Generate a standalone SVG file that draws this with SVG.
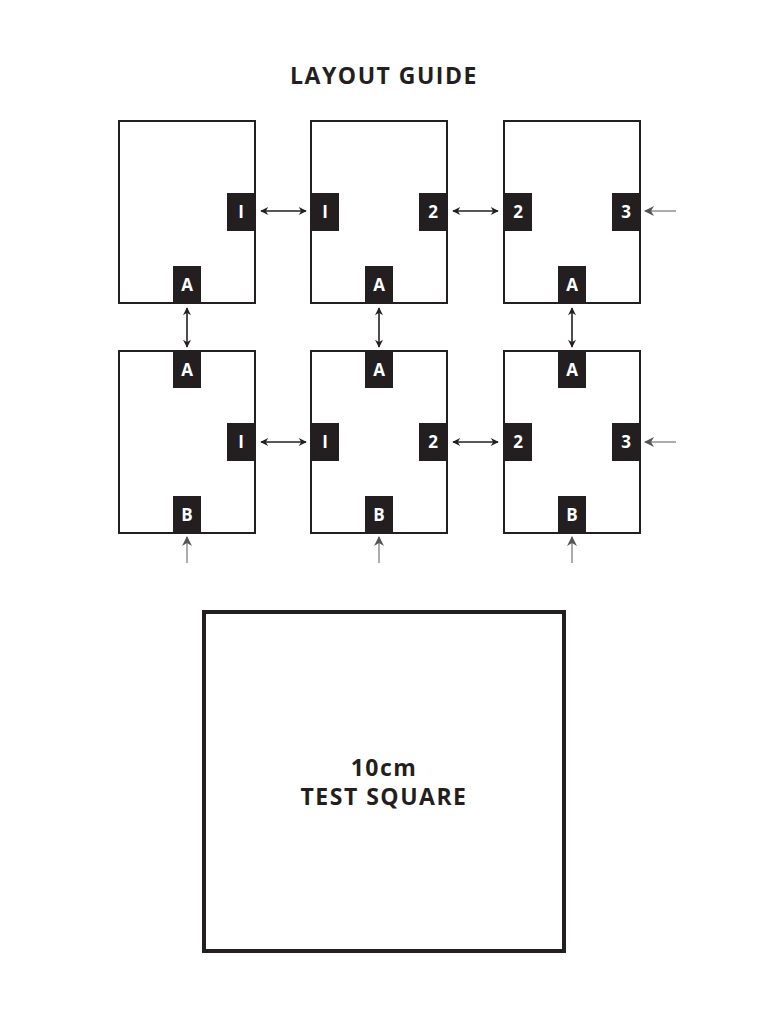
<svg xmlns="http://www.w3.org/2000/svg" width="768" height="1024" viewBox="0 0 768 1024">
<style>
.pg{fill:#fff;stroke:#231f20;stroke-width:2}
.tab{fill:#231f20}
.tl{fill:#fff;font-family:"Open Sans","DejaVu Sans",sans-serif;font-weight:bold;font-size:17px;text-anchor:middle}
.ar{stroke:#231f20;stroke-width:1.6;fill:none;marker-start:url(#h);marker-end:url(#h)}
.gr{stroke:#888;stroke-width:1.4;fill:none;marker-end:url(#g)}
.t{font-family:"Open Sans","DejaVu Sans",sans-serif;font-weight:bold;fill:#231f20;text-anchor:middle;font-size:23px;letter-spacing:1.5px}
</style>
<defs>
<marker id="h" viewBox="0 0 10 10" refX="9" refY="5" markerWidth="9" markerHeight="8" orient="auto-start-reverse" markerUnits="userSpaceOnUse"><path d="M0,0L10,5L0,10L3,5Z" fill="#231f20"/></marker>
<marker id="g" viewBox="0 0 10 10" refX="9" refY="5" markerWidth="10" markerHeight="10" orient="auto" markerUnits="userSpaceOnUse"><path d="M0,0L10,5L0,10L3,5Z" fill="#555"/></marker>
</defs>
<text class="t" x="384" y="84">LAYOUT GUIDE</text>
<g id="p1"><rect class="pg" x="119" y="121" width="136" height="182"/><rect class="tab" x="227" y="193" width="28" height="38"/><text class="tl" x="241" y="218">I</text><rect class="tab" x="173" y="266" width="28" height="37"/><text class="tl" x="187" y="291">A</text></g>
<g id="p2"><rect class="pg" x="311" y="121" width="136" height="182"/><rect class="tab" x="311" y="193" width="28" height="38"/><text class="tl" x="325" y="218">I</text><rect class="tab" x="419" y="193" width="28" height="38"/><text class="tl" x="433" y="218">2</text><rect class="tab" x="365" y="266" width="28" height="37"/><text class="tl" x="379" y="291">A</text></g>
<g id="p3"><rect class="pg" x="504" y="121" width="136" height="182"/><rect class="tab" x="504" y="193" width="28" height="38"/><text class="tl" x="518" y="218">2</text><rect class="tab" x="612" y="193" width="28" height="38"/><text class="tl" x="626" y="218">3</text><rect class="tab" x="558" y="266" width="28" height="37"/><text class="tl" x="572" y="291">A</text></g>
<g id="p4"><rect class="pg" x="119" y="351" width="136" height="182"/><rect class="tab" x="173" y="351" width="28" height="37"/><text class="tl" x="187" y="376">A</text><rect class="tab" x="227" y="423" width="28" height="38"/><text class="tl" x="241" y="448">I</text><rect class="tab" x="173" y="496" width="28" height="37"/><text class="tl" x="187" y="521">B</text></g>
<g id="p5"><rect class="pg" x="311" y="351" width="136" height="182"/><rect class="tab" x="365" y="351" width="28" height="37"/><text class="tl" x="379" y="376">A</text><rect class="tab" x="311" y="423" width="28" height="38"/><text class="tl" x="325" y="448">I</text><rect class="tab" x="419" y="423" width="28" height="38"/><text class="tl" x="433" y="448">2</text><rect class="tab" x="365" y="496" width="28" height="37"/><text class="tl" x="379" y="521">B</text></g>
<g id="p6"><rect class="pg" x="504" y="351" width="136" height="182"/><rect class="tab" x="558" y="351" width="28" height="37"/><text class="tl" x="572" y="376">A</text><rect class="tab" x="504" y="423" width="28" height="38"/><text class="tl" x="518" y="448">2</text><rect class="tab" x="612" y="423" width="28" height="38"/><text class="tl" x="626" y="448">3</text><rect class="tab" x="558" y="496" width="28" height="37"/><text class="tl" x="572" y="521">B</text></g>
<g id="connectors">
<line class="ar" x1="261" y1="211" x2="306" y2="211"/>
<line class="ar" x1="453" y1="211" x2="498" y2="211"/>
<line class="ar" x1="261" y1="442" x2="306" y2="442"/>
<line class="ar" x1="453" y1="442" x2="498" y2="442"/>
<line class="ar" x1="187" y1="308" x2="187" y2="347"/>
<line class="ar" x1="379" y1="308" x2="379" y2="347"/>
<line class="ar" x1="572" y1="308" x2="572" y2="347"/>
<line class="gr" x1="676" y1="211" x2="645" y2="211"/>
<line class="gr" x1="676" y1="442" x2="645" y2="442"/>
<line class="gr" x1="187" y1="563" x2="187" y2="537"/>
<line class="gr" x1="379" y1="563" x2="379" y2="537"/>
<line class="gr" x1="572" y1="563" x2="572" y2="537"/>
</g>
<g id="square"><rect x="204" y="612" width="360" height="339" fill="#fff" stroke="#231f20" stroke-width="4"/>
<text class="t" x="384" y="776">10cm</text>
<text class="t" x="384" y="805">TEST SQUARE</text></g>
</svg>
